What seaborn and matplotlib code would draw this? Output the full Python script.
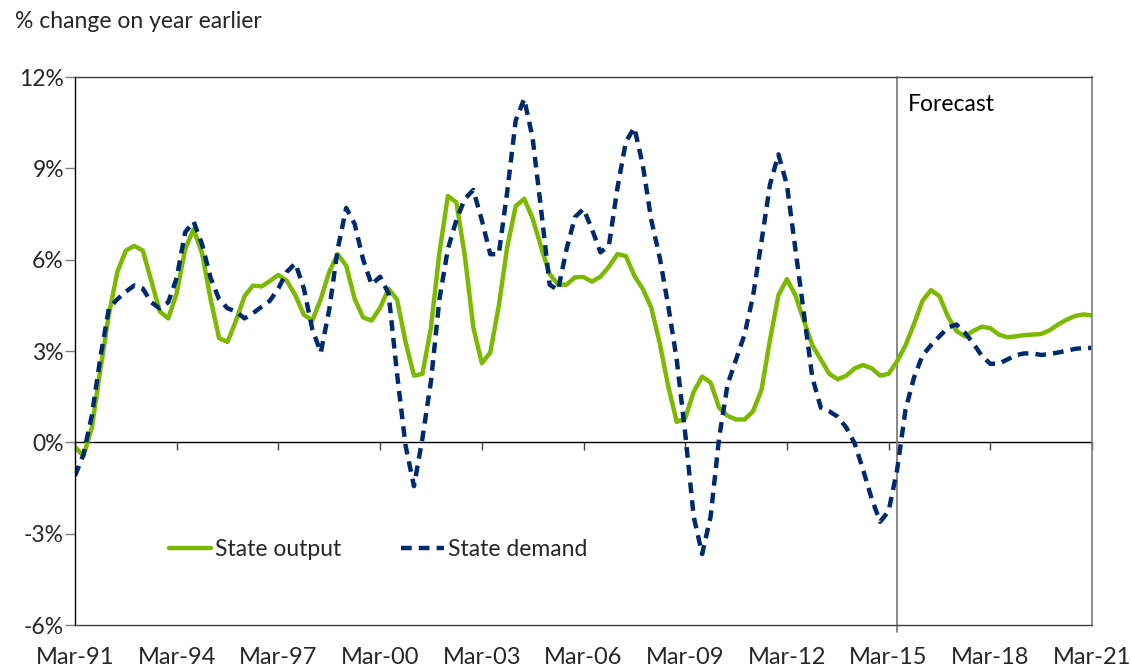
import numpy as np
import pandas as pd
import matplotlib
matplotlib.use("Agg")
import matplotlib.pyplot as plt
import seaborn as sns

# quarterly, Mar-91 .. Mar-21
quarters = pd.date_range("1991-03-01", "2021-03-01", freq="QS-MAR").strftime("%b-%y").tolist()

state_output = [
    -0.15, -0.45, 0.5, 2.4, 4.2, 5.6, 6.3, 6.45, 6.3, 5.3,
    4.3, 4.07, 4.9, 6.35, 7.0, 6.2, 4.7, 3.42, 3.3, 4.0,
    4.8, 5.15, 5.12, 5.3, 5.5, 5.3, 4.83, 4.19, 4.0, 4.71,
    5.6, 6.18, 5.8, 4.71, 4.1, 4.0, 4.42, 5.04, 4.69, 3.3,
    2.19, 2.25, 3.77, 6.24, 8.09, 7.88, 6.12, 3.77, 2.6, 2.95,
    4.48, 6.41, 7.76, 8.0, 7.35, 6.41, 5.53, 5.18, 5.18, 5.42,
    5.43, 5.28, 5.44, 5.77, 6.18, 6.12, 5.47, 5.04, 4.42, 3.25,
    1.84, 0.67, 0.79, 1.66, 2.16, 1.96, 1.14, 0.87, 0.75, 0.75,
    1.02, 1.72, 3.36, 4.83, 5.36, 4.83, 4.0, 3.19, 2.72, 2.25,
    2.07, 2.19, 2.43, 2.54, 2.43, 2.19, 2.25, 2.66, 3.19, 3.89,
    4.65, 5.0, 4.8, 4.13, 3.66, 3.48, 3.66, 3.8, 3.75, 3.54,
    3.45, 3.48, 3.52, 3.54, 3.56, 3.68, 3.87, 4.03, 4.15, 4.2,
    4.17,
]
state_demand = [
    -1.1, -0.4, 0.9, 2.8, 4.4, 4.7, 4.95, 5.15, 5.05, 4.6,
    4.4, 4.6, 5.4, 6.9, 7.25, 6.5, 5.4, 4.7, 4.4, 4.3,
    4.07, 4.24, 4.45, 4.65, 5.06, 5.6, 5.88, 5.06, 3.72, 2.95,
    4.36, 6.35, 7.7, 7.17, 6.0, 5.18, 5.44, 4.89, 2.25, -0.1,
    -1.44, 0.14, 2.0, 4.7, 6.35, 7.3, 8.0, 8.29, 7.3, 6.18,
    6.18, 8.23, 10.57, 11.28, 9.99, 7.64, 5.18, 5.0, 6.35, 7.4,
    7.67, 7.0, 6.24, 6.47, 8.35, 9.87, 10.34, 9.1, 7.3, 6.06,
    4.48, 2.72, 0.3, -2.44, -3.67, -2.44, 0.14, 1.9, 2.72, 3.54,
    4.8, 6.59, 8.46, 9.46, 8.46, 6.35, 4.24, 2.13, 1.14, 1.02,
    0.84, 0.49, -0.04, -0.91, -1.85, -2.61, -2.26, -0.91, 1.08, 2.13,
    2.85, 3.19, 3.48, 3.77, 3.87, 3.6, 3.25, 2.84, 2.58, 2.58,
    2.72, 2.86, 2.92, 2.92, 2.87, 2.9, 2.95, 3.01, 3.07, 3.1,
    3.1,
]
forecast_start = "Jun-15"
y_ticks = [-6, -3, 0, 3, 6, 9, 12]

sns.set_style("white")
plt.rcParams["font.family"] = ["Lato", "DejaVu Sans"]
plt.rcParams["axes.unicode_minus"] = False

df = pd.DataFrame({"q": range(len(quarters)), "label": quarters,
                   "output": state_output, "demand": state_demand})

fig = plt.figure(figsize=(11.31, 6.66), dpi=100)
ax = fig.add_axes([75/1131, 1-625/666, 1017/1131, 548/666])

sns.lineplot(data=df, x="q", y="output", color="#7cb900", lw=3.2,
             label="State output", ax=ax)
sns.lineplot(data=df, x="q", y="demand", color="#002a6e", lw=3.2,
             linestyle=(0, (2.4, 1.6)), label="State demand", ax=ax)

ax.set_xlim(0, len(quarters) - 1)
ax.set_ylim(y_ticks[0], y_ticks[-1])
ax.set_xlabel("")
ax.set_ylabel("")

year_ticks = list(range(0, len(quarters), 12))
ax.set_xticks(year_ticks)
ax.set_xticklabels([quarters[i] for i in year_ticks], fontsize=17)
ax.tick_params(axis="x", length=0, pad=16)
ax.set_yticks(y_ticks)
ax.set_yticklabels([f"{v}%" for v in y_ticks], fontsize=16.5)
ax.tick_params(axis="y", direction="out", length=7, width=1, color="#7f7f7f", pad=1, left=True)

for side, c in [("left", "black"), ("top", "#404040"), ("bottom", "#404040"), ("right", "#808080")]:
    ax.spines[side].set_visible(True)
    ax.spines[side].set_color(c)
    ax.spines[side].set_linewidth(1.2 if side == "right" else 1.0)

# zero line with year ticks hanging below it
zero = ax.secondary_xaxis((0 - y_ticks[0]) / (y_ticks[-1] - y_ticks[0]))
zero.set_xticks(year_ticks)
zero.tick_params(axis="x", direction="out", length=6, width=1, color="#404040",
                 labelbottom=False, labeltop=False)
for s in zero.spines.values():
    s.set_color("black")
    s.set_linewidth(1.0)

# forecast marker
fx = quarters.index(forecast_start)
ax.axvline(fx, ymin=-0.012, ymax=1, color="#7f7f7f", lw=1.3, clip_on=False, zorder=1)
ax.text(fx + 1.3, 11.1, "Forecast", fontsize=16.5, va="center", ha="left", color="black")

handles, labels = ax.get_legend_handles_labels()
ax.legend(handles, labels, ncol=2, frameon=False, fontsize=16.5,
          loc="center", bbox_to_anchor=(0.298, 0.137),
          handlelength=1.85, handletextpad=0.18, columnspacing=2.6)

fig.text(15/1131, 1-22/666, "% change on year earlier", fontsize=16.5, va="center", ha="left")

fig.savefig("out.png", dpi=100)
